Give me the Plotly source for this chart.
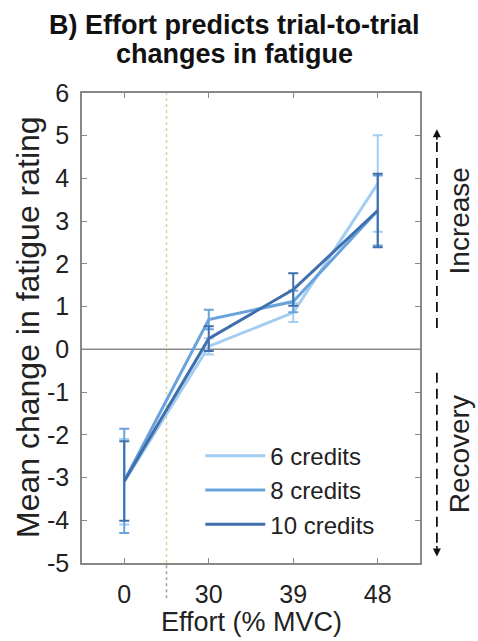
import plotly.graph_objects as go

categories = ["0", "30", "39", "48"]
series_names = ["6 credits", "8 credits", "10 credits"]
means_6 = [-3.10, 0.07, 0.86, 3.88]
err_6 = [1.00, 0.19, 0.22, 1.13]
means_8 = [-3.08, 0.70, 1.12, 3.25]
err_8 = [1.22, 0.23, 0.25, 0.82]
means_10 = [-3.08, 0.25, 1.40, 3.25]
err_10 = [0.93, 0.29, 0.38, 0.86]
colors = ["#a3cdf1", "#6aa3dc", "#3f70ad"]
y_ticks = [-5, -4, -3, -2, -1, 0, 1, 2, 3, 4, 5, 6]
y_tick_labels = [str(v) for v in y_ticks]

xpos = [1, 2, 3, 4]
font = "Liberation Sans, Arial, sans-serif"
txt = "#222"

fig = go.Figure()
for name, m, e, c in zip(series_names, [means_6, means_8, means_10],
                         [err_6, err_8, err_10], colors):
    fig.add_trace(go.Scatter(
        x=xpos, y=m, name=name, mode="lines",
        line=dict(color=c, width=3),
        error_y=dict(type="data", array=e, visible=True, color=c,
                     thickness=2, width=5),
    ))

# zero line
fig.add_shape(type="line", xref="x", yref="y", x0=0.5, x1=4.5, y0=0, y1=0,
              line=dict(color="#8a8a8a", width=1.5), layer="below")
# dotted break line inside plot
fig.add_shape(type="line", xref="x", yref="paper", x0=1.5, x1=1.5, y0=0, y1=1,
              line=dict(color="#d9d2a0", width=1.5, dash="dot"), layer="below")
# dotted break extension below axis
fig.add_shape(type="line", xref="x", yref="paper", x0=1.5, x1=1.5, y0=-0.075, y1=0,
              line=dict(color="#a0a0a0", width=1.5, dash="dot"))

# dashed arrows at right
fig.add_shape(type="line", xref="paper", yref="y", x0=1.05, x1=1.05, y0=0.5, y1=4.9,
              line=dict(color="#111", width=1.8, dash="10px,6px"))
fig.add_shape(type="line", xref="paper", yref="y", x0=1.05, x1=1.05, y0=-0.55, y1=-4.6,
              line=dict(color="#111", width=1.8, dash="10px,6px"))
fig.add_annotation(xref="paper", yref="y", x=1.05, y=5.15, ax=0, ay=12,
                   axref="pixel", ayref="pixel", showarrow=True, text="",
                   arrowhead=2, arrowsize=1, arrowwidth=1.6, arrowcolor="#111")
fig.add_annotation(xref="paper", yref="y", x=1.05, y=-4.85, ax=0, ay=-12,
                   axref="pixel", ayref="pixel", showarrow=True, text="",
                   arrowhead=2, arrowsize=1, arrowwidth=1.6, arrowcolor="#111")
fig.add_annotation(xref="paper", yref="y", x=1.168, y=3.0, text="Increase",
                   showarrow=False, textangle=-90,
                   font=dict(family=font, size=28, color=txt))
fig.add_annotation(xref="paper", yref="y", x=1.168, y=-2.45, text="Recovery",
                   showarrow=False, textangle=-90,
                   font=dict(family=font, size=28, color=txt))

# title (two lines)
fig.add_annotation(xref="paper", yref="paper", x=0.452, y=1.145,
                   text="<b>B) Effort predicts trial-to-trial</b>",
                   showarrow=False, xanchor="center", yanchor="middle",
                   font=dict(family=font, size=27, color="#111"))
fig.add_annotation(xref="paper", yref="paper", x=0.452, y=1.083,
                   text="<b>changes in fatigue</b>",
                   showarrow=False, xanchor="center", yanchor="middle",
                   font=dict(family=font, size=27, color="#111"))

# axis titles
fig.add_annotation(xref="paper", yref="paper", x=0.5, y=-0.125,
                   text="Effort (% MVC)", showarrow=False,
                   xanchor="center", yanchor="middle",
                   font=dict(family=font, size=27, color=txt))
fig.add_annotation(xref="paper", yref="paper", x=-0.16, y=0.502,
                   text="Mean change in fatigue rating", showarrow=False,
                   textangle=-90, xanchor="center", yanchor="middle",
                   font=dict(family=font, size=32, color=txt))

fig.update_layout(
    width=478, height=641,
    margin=dict(l=82, r=58, t=93, b=78),
    paper_bgcolor="white", plot_bgcolor="white",
    font=dict(family=font, size=24, color=txt),
    showlegend=True,
    legend=dict(x=0.35, y=0.275, xanchor="left", yanchor="top",
                bgcolor="rgba(0,0,0,0)", font=dict(size=24, color=txt),
                tracegroupgap=0, itemwidth=60),
    xaxis=dict(range=[0.5, 4.5], tickmode="array", tickvals=xpos,
               ticktext=categories, ticks="inside", ticklen=5,
               tickcolor="#888", showline=True, linecolor="#888", linewidth=1.5,
               mirror="ticks", showgrid=False, zeroline=False,
               ticklabelstandoff=8,
               tickfont=dict(size=25, color=txt)),
    yaxis=dict(range=[-5, 6], tickmode="array", tickvals=y_ticks,
               ticktext=y_tick_labels,
               ticks="inside", ticklen=5, tickcolor="#888",
               showline=True, linecolor="#888", linewidth=1.5, mirror="ticks",
               showgrid=False, zeroline=False, ticklabelstandoff=6,
               tickfont=dict(size=25, color=txt)),
)

fig.write_html("out.html")
